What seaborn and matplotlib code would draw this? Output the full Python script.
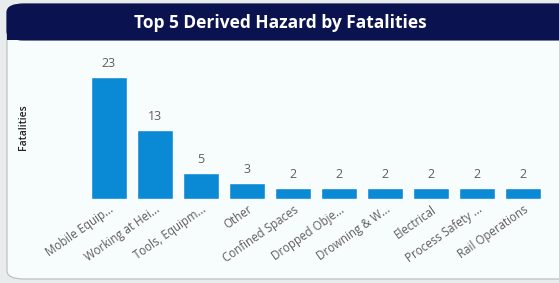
import matplotlib
matplotlib.use("Agg")
import matplotlib.pyplot as plt
import pandas as pd
import seaborn as sns
from matplotlib.patches import FancyBboxPatch, Rectangle

hazards = [
    "Mobile Equip...",
    "Working at Hei...",
    "Tools, Equipm...",
    "Other",
    "Confined Spaces",
    "Dropped Obje...",
    "Drowning & W...",
    "Electrical",
    "Process Safety ...",
    "Rail Operations",
]
fatalities = [23, 13, 5, 3, 2, 2, 2, 2, 2, 2]

title = "Top 5 Derived Hazard by Fatalities"
bar_color = "#0a8ad4"
navy = "#0a1250"

sns.set_theme(style="white")
plt.rcParams["font.family"] = ["Open Sans", "DejaVu Sans"]

df = pd.DataFrame({"hazard": hazards, "fatalities": fatalities})

fig = plt.figure(figsize=(5.59, 2.83), dpi=100)
fig.patch.set_facecolor("#e9ecec")

W, H = 559, 283
# card body, runs off the right edge like the screenshot
card = FancyBboxPatch((7 / W, 4 / H), 570 / W, 275 / H,
                      boxstyle="round,pad=0,rounding_size=0.03",
                      transform=fig.transFigure, facecolor="#f7fcfd",
                      edgecolor="#b8bcbe", linewidth=0.8, zorder=-3)
fig.patches.append(card)
# header band
header = FancyBboxPatch((7 / W, (H - 40) / H), 570 / W, 36 / H,
                        boxstyle="round,pad=0,rounding_size=0.03",
                        transform=fig.transFigure, facecolor=navy,
                        edgecolor=navy, linewidth=0.8, zorder=-2)
fig.patches.append(header)
fig.patches.append(Rectangle((7 / W, (H - 40) / H), 570 / W, 12 / H,
                             transform=fig.transFigure, facecolor=navy,
                             edgecolor="none", zorder=-2))
fig.text(280 / W, 1 - 23 / H, title, color="white", fontsize=12.5,
         fontweight="bold", ha="center", va="center", zorder=2)

ax = fig.add_axes([86 / W, 1 - 199 / H, 460 / W, 134 / H])
ax.set_facecolor("none")
sns.barplot(data=df, x="hazard", y="fatalities", color=bar_color,
            saturation=1, width=0.78, ax=ax)
ax.set_ylim(0, 25.3)
ax.set_xlim(-0.5, len(hazards) - 0.5)
ax.bar_label(ax.containers[0], padding=5, fontsize=9, color="#605e5c")

ax.set_yticks([])
ax.set_xlabel("")
ax.set_ylabel("")
for s in ax.spines.values():
    s.set_visible(False)
ax.tick_params(axis="x", length=0, pad=3)
for t in ax.get_xticklabels():
    t.set_rotation(35)
    t.set_ha("right")
    t.set_rotation_mode("anchor")
    t.set_fontsize(8.3)
    t.set_color("#605e5c")

fig.text(24 / W, 1 - 127 / H, "Fatalities", rotation=90, fontsize=7.5,
         fontweight="semibold", ha="center", va="center", color="#252423")

fig.savefig("out.png", dpi=100, facecolor=fig.get_facecolor())
